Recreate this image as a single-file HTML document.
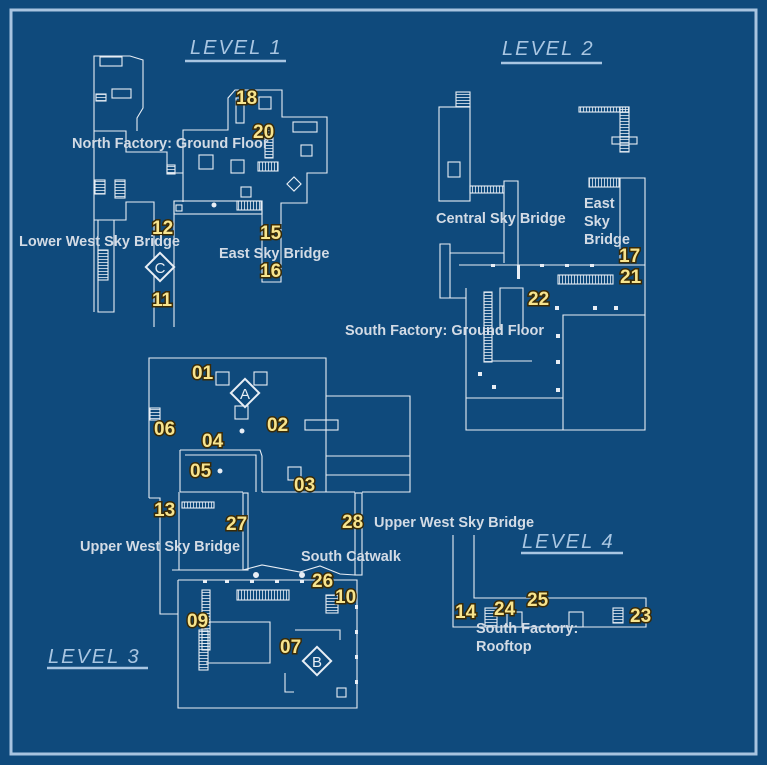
<!DOCTYPE html>
<html><head><meta charset="utf-8"><style>
html,body{margin:0;padding:0;background:#0f4a7c;}
svg{display:block}
.w{fill:none;stroke:#e8eef5;stroke-width:1.1}
.n{font-family:"Liberation Sans",sans-serif;font-weight:bold;font-size:19px;fill:#f7e48e;stroke:#3a2a05;stroke-width:3;paint-order:stroke;}
.t{font-family:"Liberation Sans",sans-serif;font-weight:bold;font-size:14.5px;fill:#d3dbe5;}
.h{font-family:"Liberation Sans",sans-serif;font-style:italic;font-size:20px;fill:#a9c6e2;letter-spacing:2px}
.u{stroke:#a9c6e2;stroke-width:2.5}
.f{fill:#e8eef5}
.s{stroke:#e8eef5;stroke-width:1;fill:none}
</style></head><body>
<svg width="767" height="765" viewBox="0 0 767 765">
<defs>
<pattern id="hv" width="3" height="3" patternUnits="userSpaceOnUse"><line x1="1.5" y1="0" x2="1.5" y2="3" stroke="#e8eef5" stroke-width="0.8"/></pattern>
<pattern id="hh" width="3" height="3" patternUnits="userSpaceOnUse"><line x1="0" y1="1.5" x2="3" y2="1.5" stroke="#e8eef5" stroke-width="0.8"/></pattern>
</defs>
<rect x="11" y="10" width="745" height="744" fill="none" stroke="#a8c4e0" stroke-width="3"/>
<!-- titles -->
<text class="h" x="190" y="54">LEVEL 1</text><line class="u" x1="185" y1="61" x2="286" y2="61"/>
<text class="h" x="502" y="55">LEVEL 2</text><line class="u" x1="501" y1="63" x2="602" y2="63"/>
<text class="h" x="48" y="663">LEVEL 3</text><line class="u" x1="47" y1="668" x2="148" y2="668"/>
<text class="h" x="522" y="548">LEVEL 4</text><line class="u" x1="521" y1="553" x2="623" y2="553"/>

<!-- LEVEL 1 -->
<g class="w">
<polyline points="94,312 94,56 130,56 143,60 143,108 137,118 137,131"/>
<rect x="112" y="89" width="19" height="9"/>
<rect x="100" y="57" width="22" height="9"/>
<polyline points="94,131 126,131 126,152 167,152 167,173 183,173 183,202"/>
<polyline points="98,220 98,312 114,312 114,220"/>
<polyline points="94,220 126,220 126,202 154,202 154,327"/>
<line x1="174" y1="203" x2="174" y2="327"/>
<polyline points="174,203 174,201 262,201 262,282 281,282 281,203 307,203 307,173 327,173 327,117 282,117 282,90 235,90 228,98 228,130 183,130 183,173"/>
<rect x="174" y="201" width="88" height="13"/>
<rect x="236" y="98" width="8" height="25"/><rect x="259" y="97" width="12" height="12"/>
<rect x="293" y="122" width="24" height="10"/><rect x="301" y="145" width="11" height="11"/>
<rect x="199" y="155" width="14" height="14"/><rect x="231" y="160" width="13" height="13"/>
<rect x="241" y="187" width="10" height="10"/>
<rect x="289" y="179" width="10" height="10" transform="rotate(45 294 184)"/>
<rect x="95" y="180" width="10" height="14" fill="url(#hh)"/><rect x="115" y="180" width="10" height="18" fill="url(#hh)"/>
<rect x="98" y="250" width="10" height="30" fill="url(#hh)"/>
<rect x="237" y="201" width="24" height="9" fill="url(#hv)"/><rect x="265" y="128" width="8" height="30" fill="url(#hh)"/>
<rect x="167" y="165" width="8" height="9" fill="url(#hh)"/><rect x="176" y="205" width="6" height="6"/>
<rect x="258" y="162" width="20" height="9" fill="url(#hv)"/>
<rect x="96" y="94" width="10" height="7" fill="url(#hh)"/>
</g>
<circle class="f" cx="214" cy="205" r="2.5"/>
<text class="n" x="236" y="104">18</text>
<text class="n" x="253" y="138">20</text>
<text class="t" x="72" y="148">North Factory: Ground Floor</text>
<text class="n" x="152" y="234">12</text>
<text class="n" x="260" y="239">15</text>
<text class="n" x="260" y="277">16</text>
<text class="n" x="152" y="306">11</text>
<text class="t" x="19" y="246">Lower West Sky Bridge</text>
<text class="t" x="219" y="258">East Sky Bridge</text>
<g transform="translate(160,267) rotate(45)"><rect x="-10" y="-10" width="20" height="20" fill="#0f4a7c" stroke="#e8eef5" stroke-width="2"/></g>
<text x="160" y="273" text-anchor="middle" font-family="Liberation Sans" font-size="15" fill="#e8eef5">C</text>

<!-- LEVEL 2 -->
<g class="w">
<rect x="439" y="107" width="31" height="94"/>
<rect x="456" y="92" width="14" height="15" fill="url(#hh)"/>
<rect x="448" y="162" width="12" height="15"/>
<rect x="470" y="186" width="34" height="7" fill="url(#hv)"/>
<polyline points="504,263 504,181 518,181 518,265"/>
<rect x="579" y="107" width="50" height="5" fill="url(#hv)"/><rect x="620" y="107" width="9" height="45" fill="url(#hh)"/><rect x="612" y="137" width="25" height="7"/>
<polyline points="620,263 620,178 645,178 645,430 466,430 466,288"/>
<rect x="589" y="178" width="30" height="9" fill="url(#hv)"/>
<line x1="459" y1="265" x2="645" y2="265"/>
<polyline points="450,298 440,298 440,244 450,244 450,253 504,253"/>
<polyline points="450,253 450,298 466,298"/>
<polyline points="563,430 563,315 645,315"/>
<line x1="466" y1="398" x2="563" y2="398"/>
<rect x="558" y="275" width="55" height="9" fill="url(#hv)"/>
<polyline points="500,330 500,288 523,288 523,330"/>
<rect x="484" y="292" width="8" height="70" fill="url(#hh)"/>
<line x1="492" y1="361" x2="532" y2="361"/>
</g>
<rect class="f" x="517" y="265" width="3" height="14"/>
<g class="f"><rect x="491" y="264" width="4" height="3"/><rect x="540" y="264" width="4" height="3"/><rect x="565" y="264" width="4" height="3"/><rect x="590" y="264" width="4" height="3"/><rect x="555" y="306" width="4" height="4"/><rect x="593" y="306" width="4" height="4"/><rect x="614" y="306" width="4" height="4"/><rect x="556" y="334" width="4" height="4"/><rect x="556" y="360" width="4" height="4"/><rect x="556" y="388" width="4" height="4"/><rect x="492" y="385" width="4" height="4"/><rect x="478" y="372" width="4" height="4"/></g>
<text class="t" x="436" y="223">Central Sky Bridge</text>
<text class="t" x="584" y="208">East</text><text class="t" x="584" y="226">Sky</text><text class="t" x="584" y="244">Bridge</text>
<text class="n" x="619" y="262">17</text>
<text class="n" x="620" y="283">21</text>
<text class="n" x="528" y="305">22</text>
<text class="t" x="345" y="335">South Factory: Ground Floor</text>

<!-- LEVEL 3 -->
<g class="w">
<polyline points="149,498 149,358 326,358 326,492"/>
<polyline points="326,396 410,396 410,492 362,492"/>
<line x1="326" y1="456" x2="410" y2="456"/>
<line x1="326" y1="475" x2="410" y2="475"/>
<rect x="305" y="420" width="33" height="10"/>
<rect x="216" y="372" width="13" height="13"/><rect x="254" y="372" width="13" height="13"/><rect x="235" y="406" width="13" height="13"/>
<rect x="288" y="467" width="13" height="13"/>
<polyline points="180,450 260,450 262,456 262,492"/>
<polyline points="185,455 256,455 256,492"/>
<line x1="180" y1="450" x2="180" y2="492"/>
<line x1="180" y1="492" x2="243" y2="492"/>
<polyline points="149,498 160,498 160,614 178,614"/>
<line x1="179" y1="492" x2="179" y2="570"/>
<rect x="243" y="493" width="5" height="77"/>
<line x1="262" y1="492" x2="355" y2="492"/>
<rect x="355" y="493" width="7" height="82"/>
<rect x="182" y="502" width="32" height="6" fill="url(#hv)"/>
<polyline points="172,570 243,570 262,565 300,572 320,566 340,574 355,575"/>
<polyline points="178,580 357,580 357,708 178,708 178,580"/>
<rect x="237" y="590" width="52" height="10" fill="url(#hv)"/>
<rect x="202" y="590" width="8" height="60" fill="url(#hh)"/><rect x="199" y="630" width="9" height="40" fill="url(#hh)"/>
<polyline points="206,622 270,622 270,663 206,663"/>
<polyline points="295,630 340,630 340,640"/>
<polyline points="285,673 285,692 294,692"/>
<rect x="337" y="688" width="9" height="9"/>
<rect x="326" y="595" width="12" height="18" fill="url(#hh)"/>
<rect x="150" y="408" width="10" height="12" fill="url(#hh)"/>
</g>
<g class="f"><circle cx="242" cy="431" r="2.5"/><circle cx="220" cy="471" r="2.5"/><circle cx="256" cy="575" r="3"/><circle cx="302" cy="575" r="3"/><rect x="203" y="580" width="4" height="3"/><rect x="225" y="580" width="4" height="3"/><rect x="250" y="580" width="4" height="3"/><rect x="275" y="580" width="4" height="3"/><rect x="300" y="580" width="4" height="3"/><rect x="355" y="605" width="3" height="4"/><rect x="355" y="630" width="3" height="4"/><rect x="355" y="655" width="3" height="4"/><rect x="355" y="680" width="3" height="4"/></g>
<text class="n" x="192" y="379">01</text>
<g transform="translate(245,393) rotate(45)"><rect x="-10" y="-10" width="20" height="20" fill="#0f4a7c" stroke="#e8eef5" stroke-width="2"/></g>
<text x="245" y="399" text-anchor="middle" font-family="Liberation Sans" font-size="15" fill="#e8eef5">A</text>
<text class="n" x="267" y="431">02</text>
<text class="n" x="154" y="435">06</text>
<text class="n" x="202" y="447">04</text>
<text class="n" x="190" y="477">05</text>
<text class="n" x="294" y="491">03</text>
<text class="n" x="154" y="516">13</text>
<text class="n" x="226" y="530">27</text>
<text class="n" x="342" y="528">28</text>
<text class="t" x="374" y="527">Upper West Sky Bridge</text>
<text class="t" x="80" y="551">Upper West Sky Bridge</text>
<text class="t" x="301" y="561">South Catwalk</text>
<text class="n" x="312" y="587">26</text>
<text class="n" x="335" y="603">10</text>
<text class="n" x="187" y="627">09</text>
<text class="n" x="280" y="653">07</text>
<g transform="translate(317,661) rotate(45)"><rect x="-10" y="-10" width="20" height="20" fill="#0f4a7c" stroke="#e8eef5" stroke-width="2"/></g>
<text x="317" y="667" text-anchor="middle" font-family="Liberation Sans" font-size="15" fill="#e8eef5">B</text>

<!-- LEVEL 4 -->
<g class="w">
<polyline points="453,535 453,627 646,627 646,598 474,598 474,535"/>
<rect x="485" y="608" width="12" height="19" fill="url(#hh)"/><rect x="507" y="612" width="15" height="15"/>
<rect x="569" y="612" width="14" height="15"/><rect x="613" y="608" width="10" height="15" fill="url(#hh)"/>
</g>
<text class="n" x="455" y="618">14</text>
<text class="n" x="494" y="615">24</text>
<text class="n" x="527" y="606">25</text>
<text class="n" x="630" y="622">23</text>
<text class="t" x="476" y="633">South Factory:</text>
<text class="t" x="476" y="651">Rooftop</text>
</svg>
</body></html>
